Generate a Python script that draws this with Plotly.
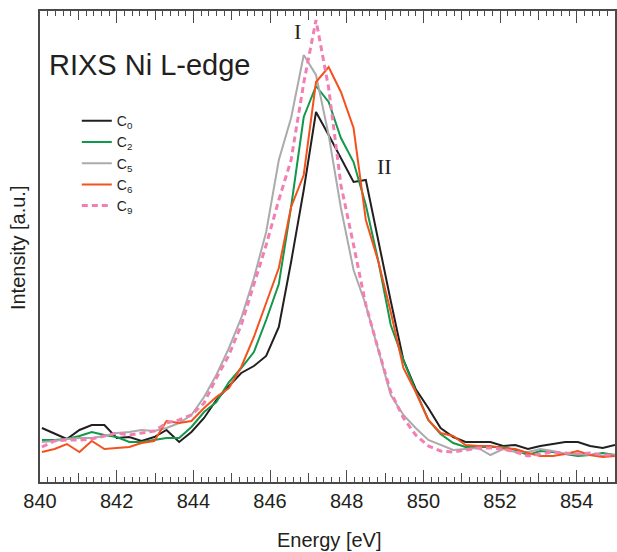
import plotly.graph_objects as go

# Energy grid (eV)
energy = [840.05, 840.38, 840.70, 841.03, 841.35, 841.68, 842.00, 842.33, 842.65, 842.98,
          843.30, 843.63, 843.95, 844.28, 844.60, 844.93, 845.25, 845.58, 845.90, 846.23,
          846.55, 846.88, 847.20, 847.53, 847.85, 848.18, 848.50, 848.83, 849.15, 849.48,
          849.80, 850.13, 850.45, 850.78, 851.10, 851.43, 851.75, 852.08, 852.40, 852.73,
          853.05, 853.38, 853.70, 854.03, 854.35, 854.68, 855.00]

# Intensities (a.u.)
c0 = [54, 48, 43, 52, 57, 57, 44, 45, 41, 45, 52, 40, 50, 64, 82, 96, 109, 116, 126, 155,
      220, 292, 370, 347, 324, 300, 302, 239, 181, 122, 93, 74, 54, 45, 40, 40, 40, 36, 37, 33,
      36, 38, 40, 40, 36, 34, 37]
c2 = [42, 42, 43, 46, 50, 47, 45, 40, 40, 42, 44, 44, 55, 70, 80, 100, 114, 130, 162, 198,
      275, 365, 396, 380, 344, 320, 277, 220, 157, 122, 91, 62, 48, 39, 35, 35, 35, 35, 32, 27,
      31, 30, 28, 26, 27, 29, 27]
c5 = [40, 41, 43, 44, 44, 46, 49, 50, 52, 51, 54, 59, 67, 85, 107, 134, 164, 204, 250, 322,
      364, 427, 407, 347, 274, 212, 177, 132, 87, 67, 54, 42, 37, 32, 33, 34, 27, 33, 30, 30,
      33, 31, 28, 28, 27, 26, 27]
c6 = [30, 33, 38, 30, 41, 33, 34, 35, 39, 41, 61, 59, 61, 74, 85, 94, 115, 145, 179, 214,
      275, 307, 400, 415, 390, 354, 262, 220, 170, 114, 90, 62, 49, 46, 37, 36, 36, 34, 33, 29,
      26, 26, 28, 31, 27, 25, 26]
c9 = [35, 41, 42, 42, 43, 46, 49, 47, 49, 51, 59, 62, 67, 79, 104, 127, 157, 197, 237, 282,
      322, 399, 462, 394, 297, 237, 177, 132, 90, 64, 47, 36, 31, 30, 32, 34, 34, 33, 30, 26,
      28, 30, 29, 28, 29, 27, 27]

series_names = ["C<sub>0</sub>", "C<sub>2</sub>", "C<sub>5</sub>", "C<sub>6</sub>", "C<sub>9</sub>"]
series_vals = [c0, c2, c5, c6, c9]
series_colors = ["#231f20", "#11984a", "#ababab", "#f4511e", "#f27fb4"]
series_dash = ["solid", "solid", "solid", "solid", "6px,4px"]
series_width = [2, 2, 2, 2, 3]

tick_major = [840, 842, 844, 846, 848, 850, 852, 854]
tick_labels = ["840", "842", "844", "846", "848", "850", "852", "854"]
tick_odd = [841, 843, 845, 847, 849, 851, 853, 855]

fig = go.Figure()
for name, vals, col, dash, w in zip(series_names, series_vals, series_colors, series_dash, series_width):
    fig.add_trace(go.Scatter(x=energy, y=vals, mode="lines", name=name,
                             line=dict(color=col, width=w, dash=dash)))

# helper trace for the medium (odd) tick axis
fig.add_trace(go.Scatter(x=[847], y=[0], xaxis="x2", mode="markers",
                         marker=dict(opacity=0), showlegend=False, hoverinfo="skip"))

axis_col = "#4a4a4a"
font_fam = "Liberation Sans, Arial, sans-serif"

fig.update_layout(
    width=617, height=552,
    margin=dict(l=40, r=1.5, t=11, b=70),
    paper_bgcolor="white", plot_bgcolor="white",
    font=dict(family=font_fam, color="#231f20"),
    xaxis=dict(range=[840, 855], showline=True, linecolor=axis_col, linewidth=1.5,
               mirror="ticks", ticks="inside", tickvals=tick_major, ticktext=tick_labels,
               ticklen=12, tickwidth=1.2, tickcolor=axis_col,
               tickfont=dict(size=20, family=font_fam, color="#231f20"),
               ticklabelstandoff=0,
               minor=dict(tickmode="linear", tick0=840, dtick=0.2, ticklen=5, tickwidth=1,
                          tickcolor=axis_col, ticks="inside", showgrid=False),
               showgrid=False, zeroline=False),
    xaxis2=dict(range=[840, 855], overlaying="x", side="bottom", showline=False,
                mirror="ticks", ticks="inside", tickvals=tick_odd, ticklen=9,
                tickwidth=1.2, tickcolor=axis_col, showticklabels=False,
                showgrid=False, zeroline=False),
    yaxis=dict(range=[0, 471], showline=True, linecolor=axis_col, linewidth=1.5,
               mirror=True, ticks="", showticklabels=False, showgrid=False, zeroline=False),
    legend=dict(x=0.064, y=0.80, xanchor="left", yanchor="top",
                font=dict(size=14, family=font_fam, color="#231f20"),
                bgcolor="rgba(0,0,0,0)", tracegroupgap=0, itemwidth=30),
    annotations=[
        dict(text="Energy [eV]", xref="paper", yref="paper", x=0.504, y=-0.123,
             xanchor="center", yanchor="middle", showarrow=False,
             font=dict(size=20, family=font_fam, color="#231f20")),
        dict(text="Intensity [a.u.]", xref="paper", yref="paper", x=-0.038, y=0.497,
             xanchor="center", yanchor="middle", textangle=-90, showarrow=False,
             font=dict(size=20, family=font_fam, color="#231f20")),
        dict(text="RIXS Ni L-edge", xref="paper", yref="paper", x=0.013, y=0.885,
             xanchor="left", yanchor="middle", showarrow=False,
             font=dict(size=29, family=font_fam, color="#231f20")),
        dict(text="I", xref="x", yref="paper", x=846.71, y=0.956,
             xanchor="center", yanchor="middle", showarrow=False,
             font=dict(size=22, family="Liberation Serif, Times New Roman, serif", color="#231f20")),
        dict(text="II", xref="x", yref="paper", x=848.99, y=0.669,
             xanchor="center", yanchor="middle", showarrow=False,
             font=dict(size=22, family="Liberation Serif, Times New Roman, serif", color="#231f20")),
    ],
)

fig.write_html("out.html", config={"displayModeBar": False},
               post_script="document.body.style.margin='0';document.body.style.overflow='hidden';")
